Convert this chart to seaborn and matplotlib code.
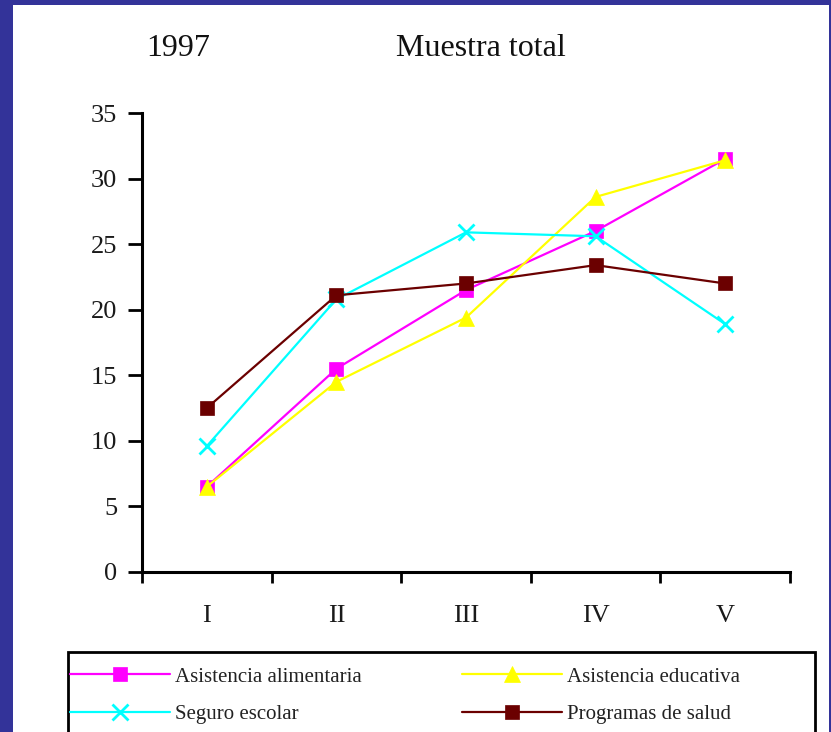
import numpy as np
import pandas as pd
from matplotlib import pyplot as plt
from matplotlib.patches import Rectangle
import seaborn as sns

# datos
quintiles = ['I', 'II', 'III', 'IV', 'V']
alimentaria = [6.5, 15.5, 21.5, 26.0, 31.5]
educativa = [6.5, 14.5, 19.4, 28.6, 31.4]
seguro = [9.6, 20.8, 25.9, 25.6, 18.9]
salud = [12.5, 21.1, 22.0, 23.4, 22.0]

series = ['Asistencia alimentaria', 'Asistencia educativa', 'Seguro escolar', 'Programas de salud']
colores = ['#ff00ff', '#ffff00', '#00ffff', '#6b0000']
marcadores = ['s', '^', 'x', 's']
tamanos = [10, 11, 11, 10]

df = pd.DataFrame({
    'quintil': quintiles * 4,
    'valor': alimentaria + educativa + seguro + salud,
    'serie': np.repeat(series, len(quintiles)),
})

sns.set_theme(style='white')
plt.rcParams['font.family'] = ['Liberation Serif', 'DejaVu Serif']

W, H = 831, 732
fig = plt.figure(figsize=(W / 100, H / 100), dpi=100, facecolor='#333399')
fondo = Rectangle((13 / W, 0), (829 - 13) / W, 1 - 5 / H, transform=fig.transFigure,
                  facecolor='white', edgecolor='none', zorder=-10)
fig.patches.append(fondo)
# marco de la leyenda (cortado por el borde inferior)
marco = Rectangle((68 / W, -0.05), (815 - 68) / W, 1 - 652 / H + 0.05, transform=fig.transFigure,
                  facecolor='none', edgecolor='black', linewidth=2, zorder=5)
fig.patches.append(marco)

ax = fig.add_axes([142 / W, 1 - 572 / H, (790 - 142) / W, (572 - 113) / H])
ax.set_zorder(2)
ax.patch.set_alpha(0)

handles = {}
for nombre, col, mk, ms in zip(series, colores, marcadores, tamanos):
    sub = df[df['serie'] == nombre]
    sns.lineplot(data=sub, x='quintil', y='valor', ax=ax, color=col,
                 marker=mk, markersize=ms, markeredgecolor=col,
                 markeredgewidth=2 if mk == 'x' else 0.5,
                 linewidth=1.6, sort=False, label=nombre)
    handles[nombre] = ax.lines[-1]

ax.get_legend().remove()
ax.set_xlabel('')
ax.set_ylabel('')
ax.set_xlim(-0.5, 4.5)
ax.set_ylim(0, 35)
ax.set_yticks(range(0, 36, 5))
ax.set_xticks(range(5))
ax.set_xticklabels(quintiles)
ax.set_xticks(np.arange(-0.5, 5, 1), minor=True)

ax.tick_params(axis='x', which='major', length=0, pad=24, labelsize=19, labelcolor='#1a1a1a')
ax.tick_params(axis='x', which='minor', direction='out', length=8, width=2, color='black', bottom=True)
ax.tick_params(axis='y', which='major', direction='out', length=10, width=2, color='black',
               pad=8, labelsize=19, labelcolor='#1a1a1a', left=True)

sns.despine(ax=ax, top=True, right=True)
for s in ['left', 'bottom']:
    ax.spines[s].set_linewidth(2.2)
    ax.spines[s].set_color('black')

fig.text(178 / W, 1 - 48 / H, '1997', ha='center', va='center', fontsize=23, color='#111111')
fig.text(481 / W, 1 - 48 / H, 'Muestra total', ha='center', va='center', fontsize=23, color='#111111')

orden = ['Asistencia alimentaria', 'Seguro escolar', 'Asistencia educativa', 'Programas de salud']
leg = fig.legend([handles[n] for n in orden], orden, ncol=2, loc='upper left',
                 bbox_to_anchor=(70 / W, 1 - 667 / H), frameon=False,
                 fontsize=15, borderaxespad=0, borderpad=0,
                 handlelength=4.8, handletextpad=0.25, labelspacing=0.85, columnspacing=4.8)
for t in leg.get_texts():
    t.set_color('#222222')

fig.savefig('out.png', dpi=100, facecolor=fig.get_facecolor())
